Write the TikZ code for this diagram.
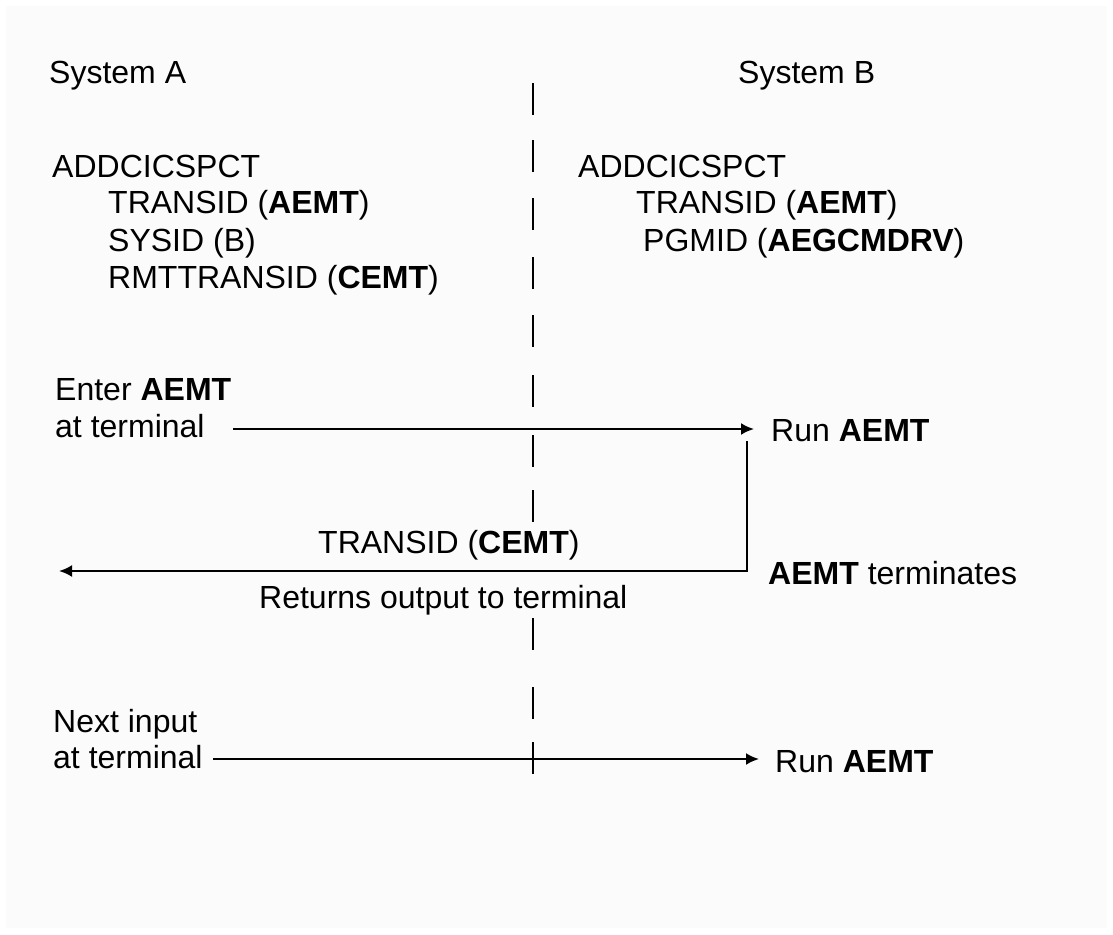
\documentclass[tikz,border=0pt]{standalone}
\usepackage{fontspec}
\setmainfont{Liberation Sans}
\usetikzlibrary{arrows.meta}
\definecolor{paper}{HTML}{FBFBFB}
\tikzset{
  txt/.style={anchor=base west,inner sep=0pt},
  flow/.style={line width=2.2pt,-{Latex[length=13pt,width=12pt]}},
  wire/.style={line width=2.2pt},
}

\begin{document}
\begin{tikzpicture}[x=1pt,y=-1pt,font=\fontsize{32}{37}\selectfont]
\useasboundingbox (0,0) rectangle (1113,934);
\fill[white] (0,0) rectangle (1113,934);
\fill[paper] (6,6) rectangle (1107,928);
% dividing line between the two systems
\foreach \y in {83,140,198,257,315,375,435,490,618,687,742}
  \draw[wire] (533,\y) -- ++(0,32);
\node[txt] (sysA) at (49,84) {System A};
\node[txt] (sysB) at (738,84) {System B};
\node[txt] (addA) at (52,177) {ADDCICSPCT};
\node[txt] (transA) at (108,213) {TRANSID (\textbf{AEMT})};
\node[txt] (sysidA) at (108,251) {SYSID (B)};
\node[txt] (rmtA) at (108,288) {RMTTRANSID (\textbf{CEMT})};
\node[txt] (addB) at (578,177) {ADDCICSPCT};
\node[txt] (transB) at (636,213) {TRANSID (\textbf{AEMT})};
\node[txt] (pgmB) at (643,251) {PGMID (\textbf{AEGCMDRV})};
\node[txt] (enter) at (55,400) {Enter \textbf{AEMT}};
\node[txt] (enterb) at (55,437) {at terminal};
\node[txt] (run1) at (771,441) {Run \textbf{AEMT}};
\node[txt] (retid) at (318,553) {TRANSID (\textbf{CEMT})};
\node[txt] (ret) at (259,608) {Returns output to terminal};
\node[txt] (term) at (768,584) {\textbf{AEMT} terminates};
\node[txt] (next) at (53,732) {Next input};
\node[txt] (nextb) at (53,768) {at terminal};
\node[txt] (run2) at (775,772) {Run \textbf{AEMT}};
\coordinate (in1) at (233,429);
\coordinate (out1) at (754,429);
\coordinate (up) at (747,441);
\coordinate (turn) at (747,571);
\coordinate (back) at (59,571);
\coordinate (in2) at (213,759);
\coordinate (out2) at (759,759);
\draw[flow] (in1) -- (out1);
\draw[flow] (up) -- (turn) -- (back);
\draw[flow] (in2) -- (out2);
\end{tikzpicture}
\end{document}
